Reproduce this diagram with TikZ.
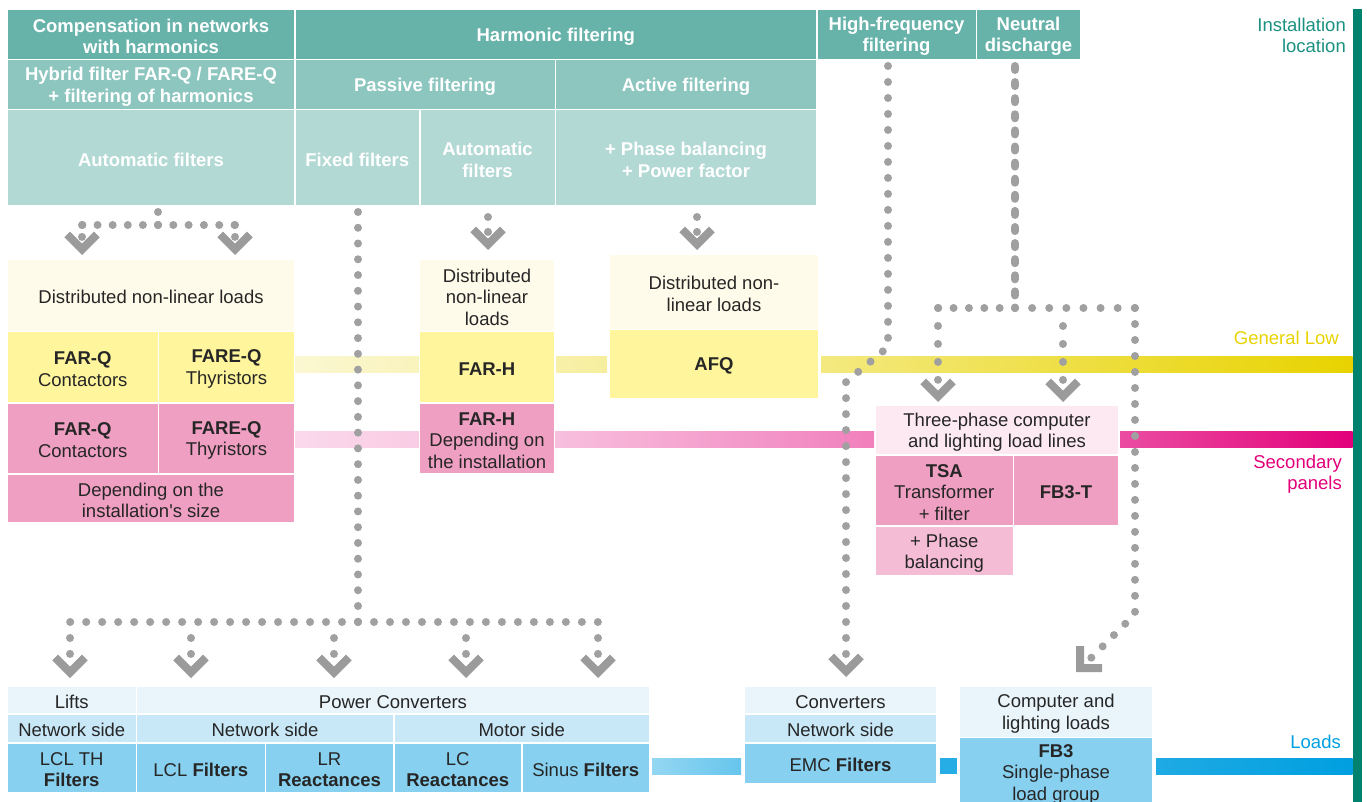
\documentclass[tikz,border=0pt]{standalone}
\usepackage{fontspec}
\setmainfont{Liberation Sans}
\definecolor{tealA}{HTML}{67B3AA}
\definecolor{tealB}{HTML}{8DC6BF}
\definecolor{tealC}{HTML}{B3D9D5}
\definecolor{tealBar}{HTML}{00826F}
\definecolor{tealTxt}{HTML}{1A9180}
\definecolor{ylwEnd}{HTML}{E8D300}
\definecolor{ylwBox}{HTML}{FFF59C}
\definecolor{ylwPale}{HTML}{FFFBEA}
\definecolor{pnkEnd}{HTML}{E2007A}
\definecolor{pnkBox}{HTML}{EF9FC1}
\definecolor{pnkMid}{HTML}{F5BDD5}
\definecolor{pnkPale}{HTML}{FDE9F1}
\definecolor{bluEnd}{HTML}{009FE0}
\definecolor{bluA}{HTML}{E9F5FB}
\definecolor{bluB}{HTML}{C9E8F7}
\definecolor{bluC}{HTML}{87D0EF}
\definecolor{dotgray}{HTML}{A0A0A0}
\definecolor{txt}{HTML}{262626}
% name, style, x1, y1, x2, y2, text
\newcommand\mybox[7]{%
  \node[bxs, #2, minimum width={(#5)-(#3)}, minimum height={(#6)-(#4)}] (#1) at (#3,#4) {};
  \node[bxt, #2, fill=none] (#1-t) at ([yshift=-2pt]#1.center) {#7};}
\begin{document}
\begin{tikzpicture}[x=1pt,y=-1pt,
  bxs/.style={inner sep=0pt, outer sep=0pt, anchor=north west},
  bxt/.style={inner sep=0pt, outer sep=0pt, anchor=center, align=center, text=txt, font=\fontsize{18.5}{21.5}\selectfont},
  bx/.style={},
  hd/.style={text=white, font=\bfseries\fontsize{18.5}{21.5}\selectfont},
  lbl/.style={anchor=east, align=right, inner sep=0pt, font=\fontsize{18.5}{21}\selectfont},
  dots/.style={draw=dotgray, line width=8pt, line cap=round, dash pattern=on 0.01pt off #1},
  dots/.default=16pt,
  ndots/.style={draw=dotgray, line width=8pt, line cap=round, dash pattern=on 4pt off #1},
  chev/.pic={\fill[dotgray!97!black] (0,0) -- (17.7,-17.7) -- (12,-23.3) -- (0,-11.3) -- (-12,-23.3) -- (-17.7,-17.7) -- cycle;},
  chevL/.pic={\fill[dotgray!97!black] (0,0) -- (26,0) -- (26,-8) -- (8,-8) -- (8,-26) -- (0,-26) -- cycle;}
]
\clip (0,0) rectangle (1367,802);
% ---- bands
\shade[left color=ylwEnd!18!white, right color=ylwEnd!26!white] (295,356) rectangle (419,372);
\shade[left color=ylwEnd!34!white, right color=ylwEnd!38!white] (556,356) rectangle (607,372);
\shade[left color=ylwEnd!50!white, right color=ylwEnd] (821,356) rectangle (1352.5,372);
\shade[left color=pnkEnd!15!white, right color=pnkEnd!20!white] (295,431) rectangle (419,447);
\shade[left color=pnkEnd!25!white, right color=pnkEnd!50!white] (555,431) rectangle (874,447);
\shade[left color=pnkEnd!70!white, right color=pnkEnd] (1120,431) rectangle (1352.5,447);
\shade[left color=bluEnd!42!white, right color=bluEnd!60!white] (652,758) rectangle (741,774);
\fill[bluEnd!85!white] (940,758) rectangle (957,774);
\shade[left color=bluEnd!88!white, right color=bluEnd] (1156,758) rectangle (1352.5,774);
\fill[tealBar] (1352.5,9) rectangle (1361.5,802);
% ---- header
\mybox{hComp}{hd,fill=tealA}{8}{10}{294}{59}{Compensation in networks\\with harmonics}
\mybox{hHarm}{hd,fill=tealA}{295.5}{10}{816}{59}{Harmonic filtering}
\mybox{hHF}{hd,fill=tealA}{817.5}{10}{975.5}{59}{High-frequency\\filtering}
\mybox{hND}{hd,fill=tealA}{977}{10}{1080}{59}{Neutral\\discharge}
\mybox{hHyb}{hd,fill=tealB}{8}{60.5}{294}{109}{Hybrid filter FAR-Q / FARE-Q\\+ filtering of harmonics}
\mybox{hPas}{hd,fill=tealB}{295.5}{60.5}{554.5}{109}{Passive filtering}
\mybox{hAct}{hd,fill=tealB}{556}{60.5}{816}{109}{Active filtering}
\mybox{fAuto}{hd,fill=tealC}{8}{110.5}{294}{205}{Automatic filters}
\mybox{fFix}{hd,fill=tealC}{295.5}{110.5}{419}{205}{Fixed filters}
\mybox{fAuto2}{hd,fill=tealC}{420.5}{110.5}{554.5}{205}{Automatic\\filters}
\mybox{fAct}{hd,fill=tealC}{556}{110.5}{816}{205}{+ Phase balancing\\+ Power factor}
% ---- middle
\mybox{dA}{bx,fill=ylwPale}{8}{260}{294}{330.5}{Distributed non-linear loads}
\mybox{yA1}{bx,fill=ylwBox}{8}{332}{157.5}{402}{\textbf{FAR-Q}\\Contactors}
\mybox{yA2}{bx,fill=ylwBox}{159}{332}{294}{402}{\textbf{FARE-Q}\\Thyristors}
\mybox{pA1}{bx,fill=pnkBox}{8}{403.5}{157.5}{473}{\textbf{FAR-Q}\\Contactors}
\mybox{pA2}{bx,fill=pnkBox}{159}{403.5}{294}{473}{\textbf{FARE-Q}\\Thyristors}
\mybox{pA3}{bx,fill=pnkBox}{8}{474.5}{294}{522}{Depending on the\\installation\textquotesingle s size}
\mybox{dH}{bx,fill=ylwPale}{420}{260}{554}{330.5}{Distributed\\non-linear\\loads}
\mybox{yH}{bx,fill=ylwBox}{420}{332}{554}{402}{\textbf{FAR-H}}
\mybox{pH}{bx,fill=pnkBox}{420}{403.5}{554}{473}{\textbf{FAR-H}\\Depending on\\the installation}
\mybox{dQ}{bx,fill=ylwPale}{610}{255}{818}{328.5}{Distributed non-\\linear loads}
\mybox{yQ}{bx,fill=ylwBox}{610}{330}{818}{398}{\textbf{AFQ}}
\mybox{tP}{bx,fill=pnkPale}{876}{406}{1118}{454}{Three-phase computer\\and lighting load lines}
\mybox{tTSA}{bx,fill=pnkBox}{876}{456}{1012.5}{525}{\textbf{TSA}\\Transformer\\+ filter}
\mybox{tFB}{bx,fill=pnkBox}{1014}{456}{1118}{525}{\textbf{FB3-T}}
\mybox{tPh}{bx,fill=pnkMid}{876}{527}{1012.5}{575}{+ Phase\\balancing}
% ---- bottom
\mybox{lifts}{bx,fill=bluA}{8}{687}{135.5}{713}{Lifts}
\mybox{pc}{bx,fill=bluA}{137}{687}{649}{713}{Power Converters}
\mybox{lNet}{bx,fill=bluB}{8}{714.5}{135.5}{742}{Network side}
\mybox{pcNet}{bx,fill=bluB}{137}{714.5}{393}{742}{Network side}
\mybox{pcMot}{bx,fill=bluB}{394.5}{714.5}{649}{742}{Motor side}
\mybox{lcl}{bx,fill=bluC}{8}{743.5}{135.5}{792}{LCL TH\\\textbf{Filters}}
\mybox{lclF}{bx,fill=bluC}{137}{743.5}{264.5}{792}{LCL \textbf{Filters}}
\mybox{lr}{bx,fill=bluC}{266}{743.5}{393}{792}{LR\\\textbf{Reactances}}
\mybox{lc}{bx,fill=bluC}{394.5}{743.5}{521}{792}{LC\\\textbf{Reactances}}
\mybox{sinf}{bx,fill=bluC}{522.5}{743.5}{649}{792}{Sinus \textbf{Filters}}
\mybox{conv}{bx,fill=bluA}{745}{687}{936}{713}{Converters}
\mybox{cNet}{bx,fill=bluB}{745}{714.5}{936}{742}{Network side}
\mybox{emc}{bx,fill=bluC}{745}{743.5}{936}{783}{EMC \textbf{Filters}}
\mybox{comp}{bx,fill=bluA}{960}{687}{1152}{736.5}{Computer and\\lighting loads}
\mybox{fb3}{bx,fill=bluC}{960}{738}{1152}{806}{\textbf{FB3}\\Single-phase\\load group}
% ---- labels
\node[lbl, text=tealTxt] (lInst) at (1346,35) {Installation\\location};
\node[lbl, text=ylwEnd] (lGen) at (1339,338) {General Low};
\node[lbl, text=pnkEnd] (lSec) at (1342,474.5) {Secondary\\panels};
\node[lbl, text=bluEnd] (lLoad) at (1341,742) {Loads};
% ---- connectors: compensation
\coordinate (sA) at (158,212); \coordinate (jA) at (158,225);
\coordinate (hA1) at (82,225); \coordinate (hA2) at (235,225);
\coordinate (cA1) at (82,237); \coordinate (cA2) at (235,237);
\draw[dots=12.9pt] (sA) -- (jA);
\draw[dots=15.1pt] (jA) -- (hA1);
\draw[dots=15.3pt] (jA) -- (hA2);
\draw[dots=11.9pt] (hA1) -- (cA1);
\draw[dots=11.9pt] (hA2) -- (cA2);
\pic at (82,255) {chev};
\pic at (235,255) {chev};
% ---- fixed filters
\coordinate (sF) at (358,212); \coordinate (jF) at (358,622);
\coordinate (hF1) at (70,622); \coordinate (hF2) at (598,622);
\draw[dots=15.75pt] (sF) -- (jF);
\draw[dots=15.98pt] (jF) -- (hF1);
\draw[dots=15.98pt] (jF) -- (hF2);
\foreach \i/\x in {1/70,2/191,3/334,4/466,5/598}{
  \coordinate (k\i) at (\x,638); \coordinate (b\i) at (\x,654);
  \draw[dots=15.9pt] (k\i) -- (b\i);
  \pic at (\x,678) {chev};
}
% ---- automatic (FAR-H) and active (AFQ)
\coordinate (sH) at (488,217); \coordinate (cH) at (488,232);
\draw[dots=14.9pt] (sH) -- (cH);
\pic at (488,250) {chev};
\coordinate (sQ) at (697,217); \coordinate (cQ) at (697,232);
\draw[dots=14.9pt] (sQ) -- (cQ);
\pic at (697,250) {chev};
% ---- high-frequency
\coordinate (sHF) at (888,66); \coordinate (hf1) at (888,347);
\coordinate (hf2) at (846,382); \coordinate (cHF) at (846,654);
\draw[dots=15.98pt] (sHF) -- (hf1) -- (hf2) -- (cHF);
\pic at (846,677) {chev};
% ---- neutral discharge
\coordinate (sN) at (1015,66); \coordinate (jN) at (1015,308);
\coordinate (nL) at (938,308); \coordinate (nR) at (1135,308);
\draw[ndots=12.1pt] (sN) -- (jN);
\draw[dots=15.35pt] (jN) -- (nL);
\draw[dots=17.1pt] (jN) -- (nR);
\coordinate (cN1) at (938,380);
\draw[dots=17.95pt] (nL) -- (cN1);
\pic at (938,402) {chev};
\coordinate (nM) at (1063,326); \coordinate (cN2) at (1063,380);
\draw[dots=17.95pt] (nM) -- (cN2);
\pic at (1063,402) {chev};
\coordinate (nD) at (1135,614); \coordinate (cN3) at (1091,658);
\draw[dots=15.98pt] (nR) -- (nD) -- (cN3);
\pic at (1076,672) {chevL};
\end{tikzpicture}
\end{document}
